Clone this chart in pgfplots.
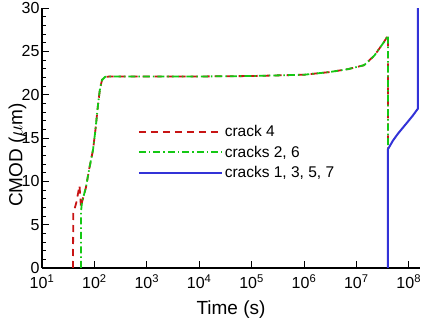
\documentclass[border=0pt]{standalone}
\usepackage{fontspec}
\setmainfont{Liberation Sans}
\usepackage{pgfplots}
\pgfplotsset{compat=1.18}
\definecolor{cred}{RGB}{200,20,20}
\definecolor{cgreen}{RGB}{20,200,20}
\definecolor{cblue}{RGB}{50,50,215}
\begin{document}
\begin{tikzpicture}
\useasboundingbox (-42bp,-54bp) rectangle (390bp,268bp);
\begin{axis}[
  scale only axis, width=378bp, height=260bp,
  at={(0,0)}, anchor=south west,
  xmode=log, log basis x=10,
  xmin=10, xmax=1.64e8, ymin=0, ymax=30,
  axis lines*=left,
  axis line style={line width=1.2pt},
  tick align=inside,
  major tick length=7bp, minor tick length=4bp,
  every tick/.style={black, line width=0.7pt},
  xtick={10,100,1000,1e4,1e5,1e6,1e7,1e8},
  xticklabels={10\textsuperscript{1},10\textsuperscript{2},10\textsuperscript{3},10\textsuperscript{4},10\textsuperscript{5},10\textsuperscript{6},10\textsuperscript{7},10\textsuperscript{8}},
  xticklabel style={yshift=-3bp},
  ytick={0,5,...,30}, minor y tick num=4,
  yticklabel style={/pgf/number format/assume math mode=true, xshift=1bp},
  ticklabel style={font=\fontsize{16bp}{18bp}\selectfont},
  xlabel={Time (s)},
  ylabel={CMOD ($\mu$m)},
  label style={font=\fontsize{19bp}{21bp}\selectfont},
  xlabel style={yshift=-5bp},
  ylabel style={at={(axis description cs:-0.065,0.435)}, anchor=center},
  legend style={draw=none, fill=none, at={(axis description cs:0.245,0.565)}, anchor=north west,
    font=\fontsize{15.5bp}{18bp}\selectfont, row sep=4bp},
  legend cell align=left,
  legend image code/.code={\draw[#1] (0bp,0bp) -- (83bp,0bp);},
]
\addplot[cred, line width=1.8pt, dash pattern=on 7bp off 5bp] coordinates {
(39,0) (39.5,6.3) (45,7.5) (52,9.5) (55.5,7)
(58,7.6) (69,9.3) (80,11.5) (94,13.6) (105,16) (118,19) (128,20.7) (140,21.7) (160,22.05) (200,22.1)
(1e4,22.1) (1e5,22.15) (1e6,22.3) (3e6,22.6) (7e6,22.95) (1.4e7,23.4) (2.2e7,24.5) (3.3e7,26) (4.0e7,26.8) (4.0e7,13.8)
};
\addlegendentry{crack 4}
\addplot[cgreen, line width=1.8pt, dash pattern=on 7bp off 3bp on 1.5bp off 3bp] coordinates {
(55.5,0) (55.5,6.5)
(58,7.6) (69,9.3) (80,11.5) (94,13.6) (105,16) (118,19) (128,20.7) (140,21.7) (160,22.05) (200,22.1)
(1e4,22.1) (1e5,22.15) (1e6,22.3) (3e6,22.6) (7e6,22.95) (1.4e7,23.4) (2.2e7,24.5) (3.3e7,26) (4.0e7,26.8) (4.0e7,13.8)
};
\addlegendentry{cracks 2, 6}
\addplot[cblue, line width=2pt] coordinates {
(4.0e7,0) (4.0e7,13.7) (4.99e7,14.7) (6.22e7,15.5) (7.75e7,16.2) (9.66e7,16.9) (1.2e8,17.6) (1.5e8,18.4) (1.5e8,30)
};
\addlegendentry{cracks 1, 3, 5, 7}
\end{axis}
\end{tikzpicture}
\end{document}
